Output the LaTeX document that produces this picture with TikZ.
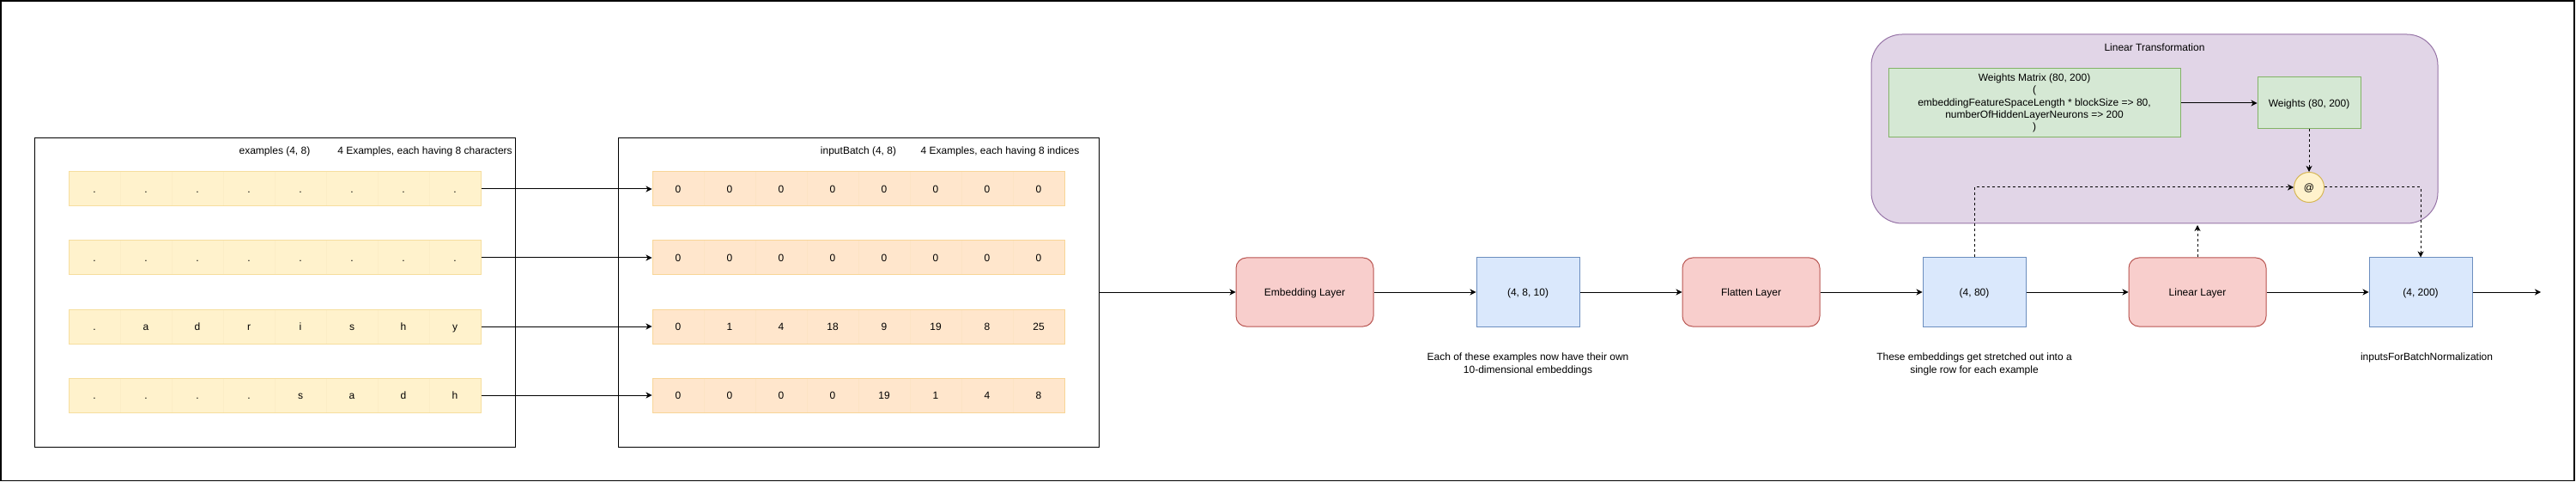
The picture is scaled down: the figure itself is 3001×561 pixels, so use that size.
\documentclass[tikz,border=0pt]{standalone}
\usepackage{fontspec}
\setmainfont{Liberation Sans}
\usetikzlibrary{arrows.meta}
\definecolor{yF}{HTML}{FFF2CC}
\definecolor{yS}{HTML}{F6DE9E}
\definecolor{yD}{HTML}{FBEDC6}
\definecolor{oF}{HTML}{FFE6CC}
\definecolor{oS}{HTML}{F8D597}
\definecolor{oD}{HTML}{FCE3C4}
\definecolor{redF}{HTML}{F8CECC}
\definecolor{redS}{HTML}{B85450}
\definecolor{blueF}{HTML}{DAE8FC}
\definecolor{blueS}{HTML}{6C8EBF}
\definecolor{grnF}{HTML}{D5E8D4}
\definecolor{grnS}{HTML}{82B366}
\definecolor{purF}{HTML}{E1D5E7}
\definecolor{purS}{HTML}{9673A6}
\definecolor{atF}{HTML}{FFF2CC}
\definecolor{atS}{HTML}{D6B656}
\begin{document}
\begin{tikzpicture}[x=1pt,y=-1pt,
  font=\fontsize{12}{14.4}\selectfont,
  line width=1pt,
  every node/.style={inner sep=0pt, text height=8.6pt, text depth=0pt},
  arr/.style={-{Stealth[length=7pt,width=7pt,inset=2pt]}},
  dsh/.style={dash pattern=on 3pt off 3pt},
  panel/.style={draw=black, minimum width=560pt, minimum height=359pt},
  cellY/.style={fill=yF, draw=yD, minimum width=60pt, minimum height=40pt},
  cellO/.style={fill=oF, draw=oD, minimum width=60pt, minimum height=40pt},
  rowY/.style={draw=yS, minimum width=480pt, minimum height=40pt},
  rowO/.style={draw=oS, minimum width=480pt, minimum height=40pt},
  layer/.style={draw=redS, fill=redF, rounded corners=12pt, minimum width=160pt, minimum height=80pt},
  tensor/.style={draw=blueS, fill=blueF, minimum width=120pt, minimum height=80pt},
  wbox/.style={draw=grnS, fill=grnF},
  note/.style={align=center, text height=, text depth=}
]
\useasboundingbox (0,0) rectangle (3001,561);
\draw[line width=1.3pt] (1,1) rectangle (2999,559.5);

% panels
\node[panel] (p1) at (320,340.5) {};
\node[panel] (p2) at (1000,340.5) {};
\node (p1t) at (320,175) {examples (4, 8)};
\node (p1d) at (495,175) {4 Examples, each having 8 characters};
\node (p2t) at (1000,175) {inputBatch (4, 8)};
\node (p2d) at (1165,175) {4 Examples, each having 8 indices};

% character rows
\foreach \rowlist [count=\r] in {{.,.,.,.,.,.,.,.},{.,.,.,.,.,.,.,.},{.,a,d,r,i,s,h,y},{.,.,.,.,s,a,d,h}}{
  \foreach \c [count=\i] in \rowlist {
    \node[cellY] (y\r c\i) at (50+60*\i, 140+80*\r) {\c};
  }
  \node[rowY] (y\r) at (320, 140+80*\r) {};
}
% index rows
\foreach \rowlist [count=\r] in {{0,0,0,0,0,0,0,0},{0,0,0,0,0,0,0,0},{0,1,4,18,9,19,8,25},{0,0,0,0,19,1,4,8}}{
  \foreach \c [count=\i] in \rowlist {
    \node[cellO] (o\r c\i) at (730+60*\i, 140+80*\r) {\c};
  }
  \node[rowO] (o\r) at (1000, 140+80*\r) {};
}
\foreach \r in {1,2,3,4}{
  \draw[arr] (y\r.east) -- (o\r.west);
}

% linear transformation container
\node[draw=purS, fill=purF, rounded corners=36pt, minimum width=660pt, minimum height=220pt] (lt) at (2510,150) {};
\node (ltt) at (2510,55) {Linear Transformation};
\node[wbox, note, minimum width=340pt, minimum height=80pt] (wm) at (2370,120)
  {Weights Matrix (80, 200)\\(\\embeddingFeatureSpaceLength * blockSize => 80,\\numberOfHiddenLayerNeurons => 200\\)};
\node[wbox, minimum width=120pt, minimum height=60pt] (w) at (2690,120) {Weights (80, 200)};
\node[circle, draw=atS, fill=atF, minimum size=35pt] (at) at (2690,218) {@};

% main flow
\node[layer] (emb) at (1520,340) {Embedding Layer};
\node[tensor] (t1) at (1780,340) {(4, 8, 10)};
\node[layer] (fl) at (2040,340) {Flatten Layer};
\node[tensor] (t2) at (2300,340) {(4, 80)};
\node[layer] (ll) at (2560,340) {Linear Layer};
\node[tensor] (t3) at (2820,340) {(4, 200)};
\coordinate (outEnd) at (2960,340);
\coordinate (ltIn) at (2560,262);

\draw[arr] (p2.east |- emb.west) -- (emb.west);
\draw[arr] (emb.east) -- (t1.west);
\draw[arr] (t1.east) -- (fl.west);
\draw[arr] (fl.east) -- (t2.west);
\draw[arr] (t2.east) -- (ll.west);
\draw[arr] (ll.east) -- (t3.west);
\draw[arr] (t3.east) -- (outEnd);

\draw[arr] (wm.east) -- (w.west);
\draw[arr,dsh] (w.south) -- (at.north);
\draw[arr,dsh] (t2.north) |- (at.west);
\draw[arr,dsh] (at.east) -| (t3.north);
\draw[arr,dsh] (ll.north) -- (ltIn);

% notes
\node[note] (n1) at (1780,424) {Each of these examples now have their own\\10-dimensional embeddings};
\node[note] (n2) at (2300,424) {These embeddings get stretched out into a\\single row for each example};
\node (n3) at (2827,415) {inputsForBatchNormalization};
\end{tikzpicture}
\end{document}
